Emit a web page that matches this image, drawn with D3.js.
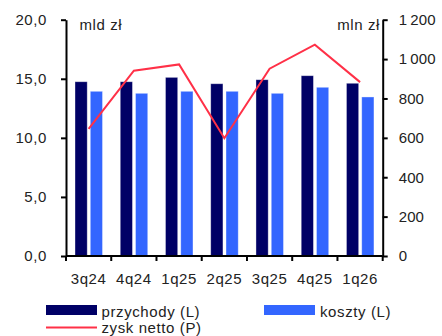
<!DOCTYPE html>
<html>
<head>
<meta charset="utf-8">
<script src="https://cdn.jsdelivr.net/npm/d3@7"></script>
<style>
  html, body { margin: 0; padding: 0; background: #fff; }
  svg { display: block; font-family: "Liberation Sans", Arial, sans-serif; }
  text { fill: #222; font-size: 15px; letter-spacing: 0.6px; }
</style>
</head>
<body>
<svg id="chart" width="442" height="336"></svg>
<script>
// Quarterly figures: revenue and costs (bn PLN, left axis), net profit (mn PLN, right axis)
const categories = ["3q24", "4q24", "1q25", "2q25", "3q25", "4q25", "1q26"];
const przychody = [14.75, 14.75, 15.12, 14.58, 14.92, 15.26, 14.62];
const koszty = [13.94, 13.77, 13.94, 13.94, 13.77, 14.28, 13.46];
const zyskNetto = [646, 941, 973, 598, 951, 1073, 883];
const leftTicks = [0, 5, 10, 15, 20];
const rightTicks = [0, 200, 400, 600, 800, 1000, 1200];

const colors = { przychody: "#000066", koszty: "#3366ff", zysk: "#ff3047" };

const svg = d3.select("#chart");
const plot = { left: 66, right: 382.7, top: 19.7, bottom: 256 };

const x = d3.scaleBand().domain(categories).range([plot.left, plot.right]).paddingInner(0).paddingOuter(0);
const xInner = d3.scaleBand().domain(["przychody", "koszty"]).range([9, 36.5]).paddingInner(0.2);
const yL = d3.scaleLinear().domain([0, 20]).range([plot.bottom, plot.top]);
const yR = d3.scaleLinear().domain([0, 1200]).range([plot.bottom, plot.top]);

const fmtL = v => v.toFixed(1).replace(".", ",");
const fmtR = v => v >= 1000 ? Math.floor(v / 1000) + "\u2009" + String(v % 1000).padStart(3, "0") : String(v);

// Bars
const rows = categories.map((c, i) => ({ c, przychody: przychody[i], koszty: koszty[i] }));
const groups = svg.append("g").selectAll("g").data(rows).join("g")
  .attr("transform", d => `translate(${x(d.c)},0)`);
groups.selectAll("rect")
  .data(d => ["przychody", "koszty"].map(k => ({ k, v: d[k] })))
  .join("rect")
  .attr("x", d => xInner(d.k))
  .attr("width", xInner.bandwidth())
  .attr("y", d => yL(d.v))
  .attr("height", d => yL(0) - yL(d.v))
  .attr("fill", d => colors[d.k])
  .attr("stroke", "#ffffff")
  .attr("stroke-opacity", 0.45)
  .attr("stroke-width", 0.8);

// Net profit line
const line = d3.line()
  .x((d, i) => x(categories[i]) + x.bandwidth() / 2)
  .y(d => yR(d));
svg.append("path")
  .datum(zyskNetto)
  .attr("d", line)
  .attr("fill", "none")
  .attr("stroke", colors.zysk)
  .attr("stroke-width", 2);

// Axes
const axisStyle = g => {
  g.select(".domain").attr("stroke", "#000").attr("stroke-width", 2);
  g.selectAll(".tick line").attr("stroke", "#000").attr("stroke-width", 2);
};

svg.append("g")
  .attr("transform", `translate(${plot.left},0)`)
  .call(d3.axisLeft(yL).tickValues(leftTicks).tickFormat(fmtL).tickSize(5).tickSizeOuter(0).tickPadding(14))
  .call(axisStyle);

svg.append("g")
  .attr("class", "axis-right")
  .attr("transform", `translate(${plot.right},0)`)
  .call(d3.axisRight(yR).tickValues(rightTicks).tickFormat(fmtR).tickSize(5).tickSizeOuter(0).tickPadding(11))
  .call(axisStyle);

const xAxis = svg.append("g")
  .attr("transform", `translate(0,${plot.bottom})`)
  .call(d3.axisBottom(x).tickSize(0).tickPadding(17))
  .call(axisStyle);
xAxis.select(".domain").attr("d", `M${plot.left},0H${plot.right}`);
// Category boundary ticks
xAxis.append("g").selectAll("line")
  .data(d3.range(categories.length + 1))
  .join("line")
  .attr("x1", i => plot.left + i * x.step())
  .attr("x2", i => plot.left + i * x.step())
  .attr("y1", 0).attr("y2", 5)
  .attr("stroke", "#000").attr("stroke-width", 2);

svg.selectAll(".tick text").attr("font-family", null).attr("font-size", null);
svg.selectAll(".axis-right .tick text").style("letter-spacing", "0.1px");

// Unit labels
svg.append("text").attr("x", 79.5).attr("y", 29.5).text("mld zł");
svg.append("text").attr("x", 380).attr("y", 29.5).attr("text-anchor", "end").text("mln zł");

// Legend
const legend = svg.append("g");
legend.append("rect").attr("x", 46).attr("y", 305).attr("width", 51).attr("height", 10).attr("fill", colors.przychody);
legend.append("text").attr("x", 101.5).attr("y", 316.5).text("przychody (L)");
legend.append("rect").attr("x", 264).attr("y", 305).attr("width", 51).attr("height", 10).attr("fill", colors.koszty);
legend.append("text").attr("x", 320).attr("y", 316.5).text("koszty (L)");
legend.append("line").attr("x1", 46).attr("x2", 97).attr("y1", 327.5).attr("y2", 327.5)
  .attr("stroke", colors.zysk).attr("stroke-width", 2);
legend.append("text").attr("x", 101.5).attr("y", 332.5).text("zysk netto (P)");
</script>
</body>
</html>
